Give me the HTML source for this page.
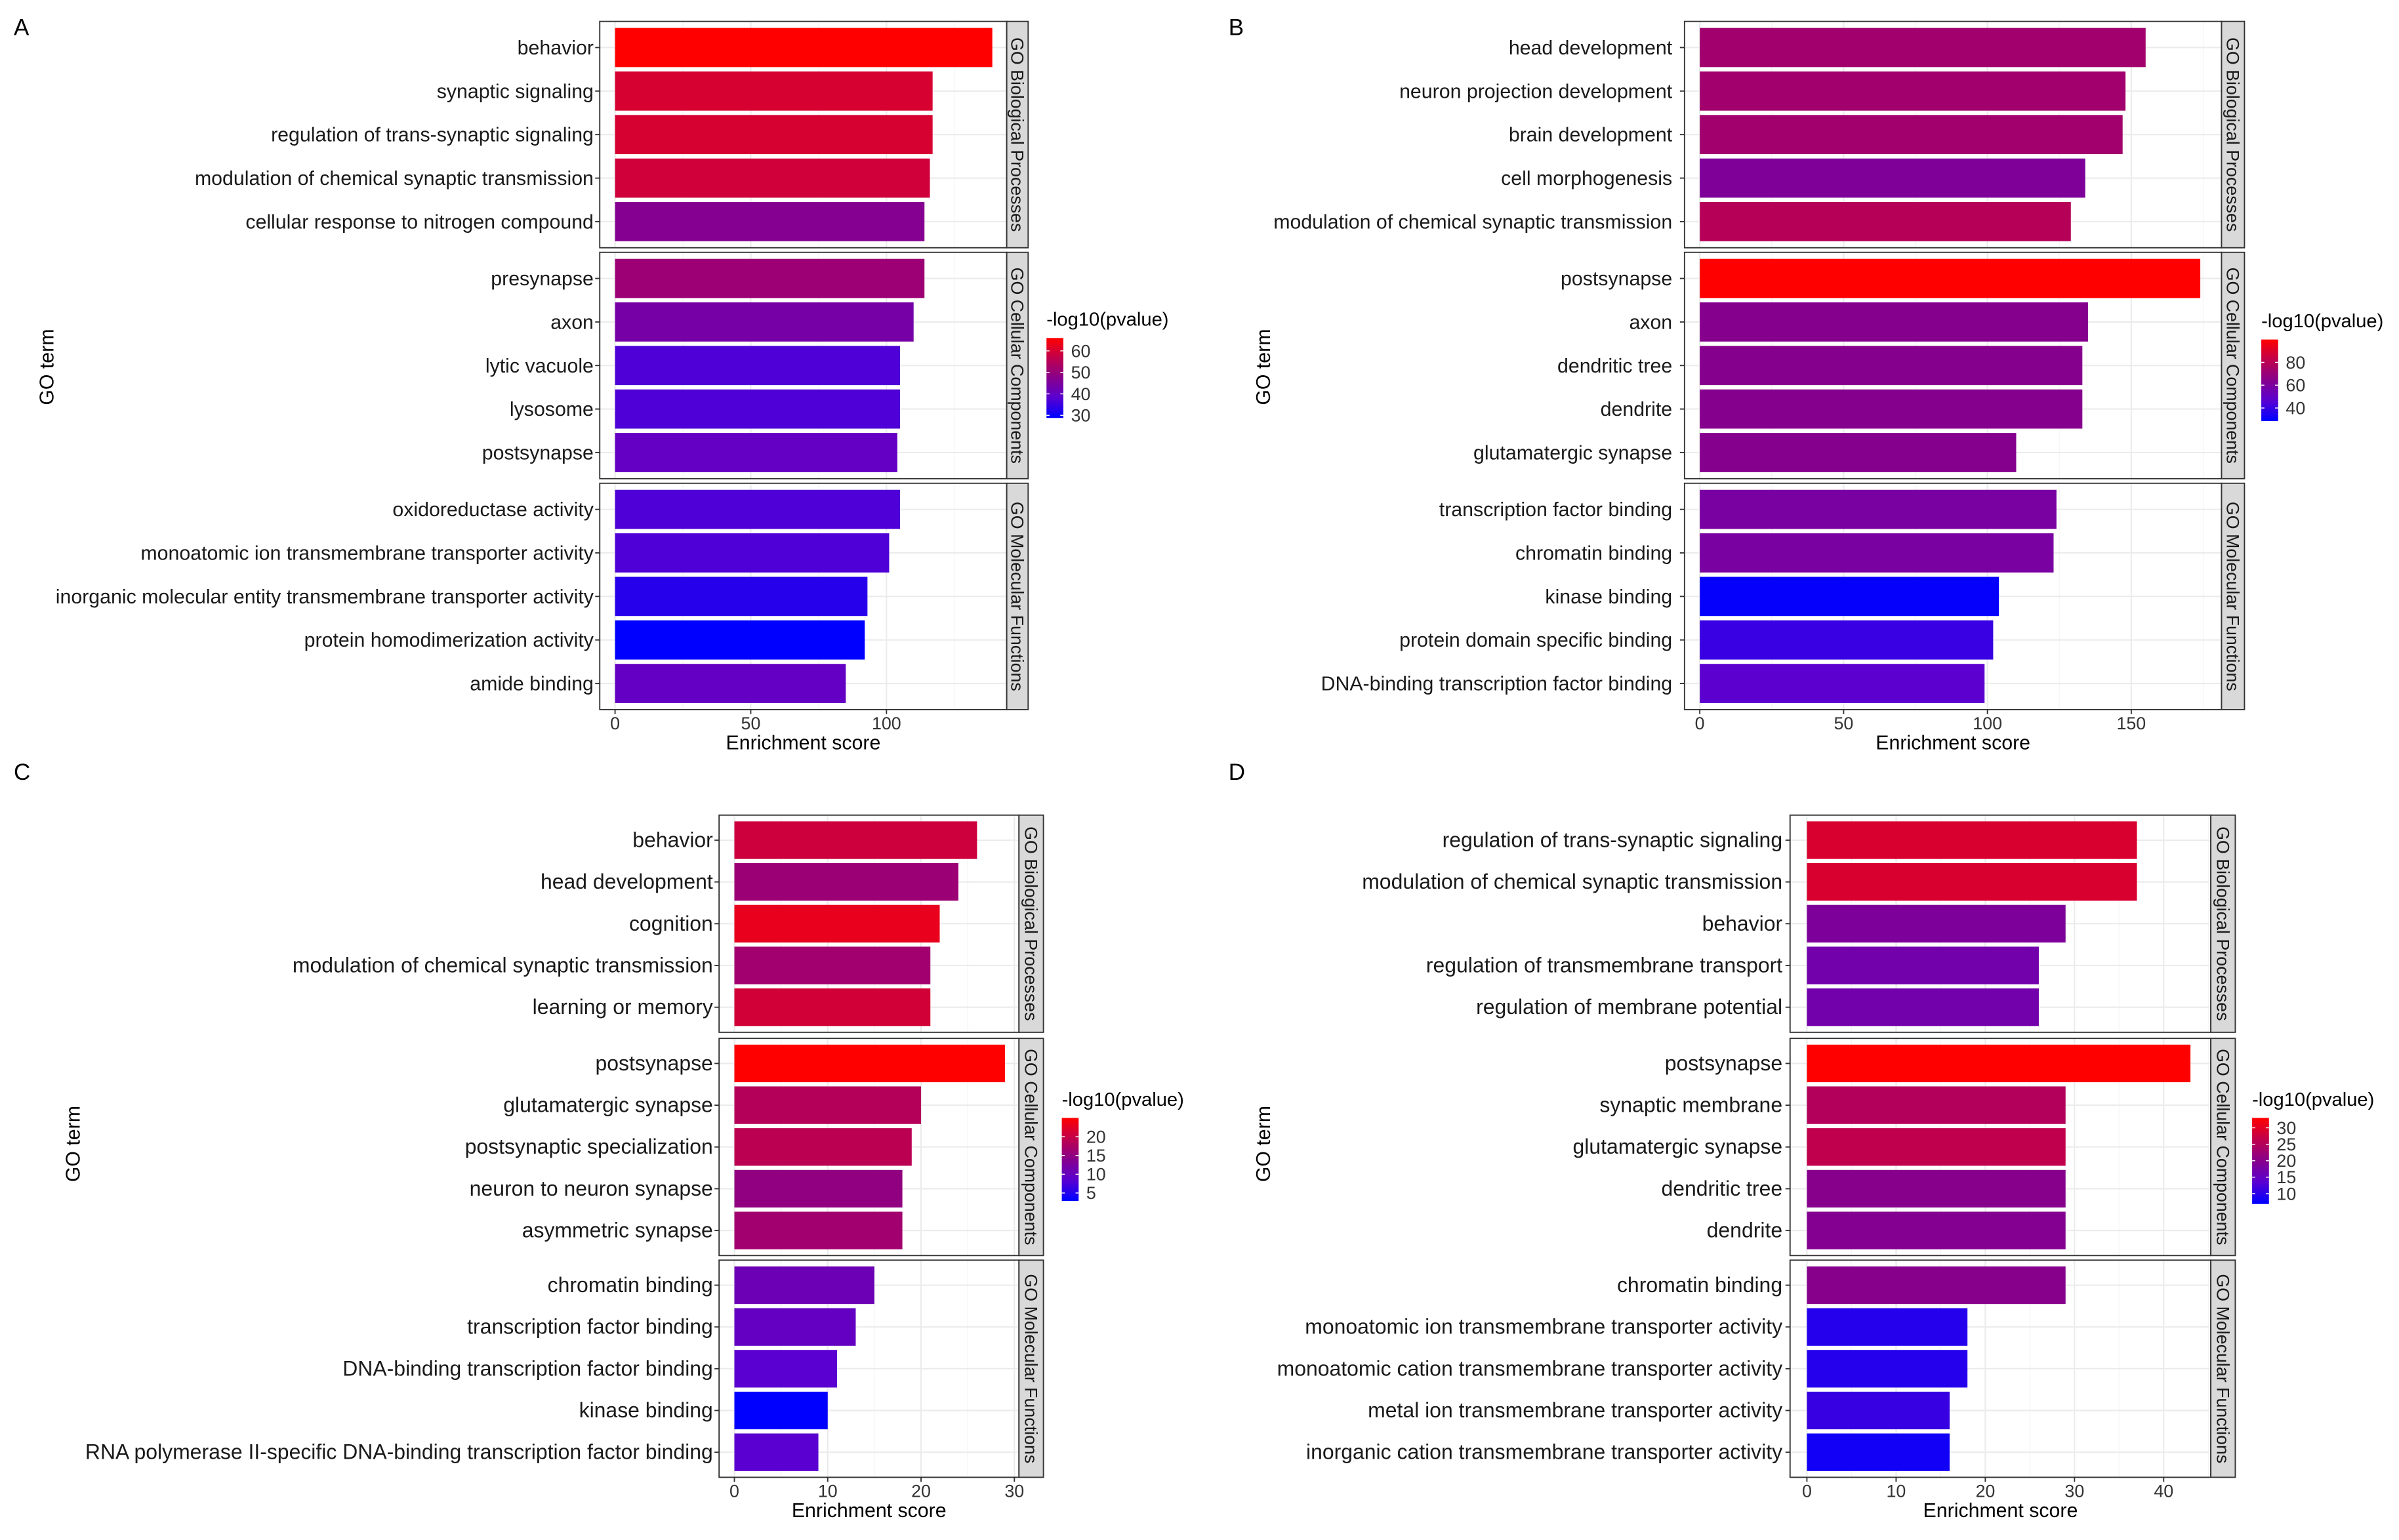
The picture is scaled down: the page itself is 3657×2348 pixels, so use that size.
<!DOCTYPE html>
<html><head><meta charset="utf-8"><style>
html,body{margin:0;padding:0;background:#fff;}
svg{display:block;font-family:"Liberation Sans",Arial,sans-serif;}
</style></head><body>
<svg id="fig" width="3657" height="2348" viewBox="0 0 1568 1007" preserveAspectRatio="none" xmlns="http://www.w3.org/2000/svg"></svg>
<script>
// ---------- DATA ----------
const A_terms = ["behavior","synaptic signaling","regulation of trans-synaptic signaling","modulation of chemical synaptic transmission","cellular response to nitrogen compound","presynapse","axon","lytic vacuole","lysosome","postsynapse","oxidoreductase activity","monoatomic ion transmembrane transporter activity","inorganic molecular entity transmembrane transporter activity","protein homodimerization activity","amide binding"];
const A_scores = [139,117,117,116,114,114,110,105,105,104,105,101,93,92,85];
const A_pvals = [66,60,60,59,47,51,44,37,37,40,37,37,33,29,40];
const A_ticks = [0,50,100];
const A_legend = [30,40,50,60];

const B_terms = ["head development","neuron projection development","brain development","cell morphogenesis","modulation of chemical synaptic transmission","postsynapse","axon","dendritic tree","dendrite","glutamatergic synapse","transcription factor binding","chromatin binding","kinase binding","protein domain specific binding","DNA-binding transcription factor binding"];
const B_scores = [155,148,147,134,129,174,135,133,133,110,124,123,104,102,99];
const B_pvals = [73,73,73,61,79,100,64,64,64,64,59,59,30,40,47];
const B_ticks = [0,50,100,150];
const B_legend = [40,60,80];

const C_terms = ["behavior","head development","cognition","modulation of chemical synaptic transmission","learning or memory","postsynapse","glutamatergic synapse","postsynaptic specialization","neuron to neuron synapse","asymmetric synapse","chromatin binding","transcription factor binding","DNA-binding transcription factor binding","kinase binding","RNA polymerase II-specific DNA-binding transcription factor binding"];
const C_scores = [26,24,22,21,21,29,20,19,18,18,15,13,11,10,9];
const C_pvals = [20.6,16,23,16.6,21,25,18.4,19,15,16.6,10.7,9.6,8.5,3,8.5];
const C_ticks = [0,10,20,30];
const C_legend = [5,10,15,20];

const D_terms = ["regulation of trans-synaptic signaling","modulation of chemical synaptic transmission","behavior","regulation of transmembrane transport","regulation of membrane potential","postsynapse","synaptic membrane","glutamatergic synapse","dendritic tree","dendrite","chromatin binding","monoatomic ion transmembrane transporter activity","monoatomic cation transmembrane transporter activity","metal ion transmembrane transporter activity","inorganic cation transmembrane transporter activity"];
const D_scores = [37,37,29,26,26,43,29,29,29,29,29,18,18,16,16];
const D_pvals = [29,29,18.7,17,17,33,25,26.5,20,19.5,20,9.6,9.6,11,8.3];
const D_ticks = [0,10,20,30,40];
const D_legend = [10,15,20,25,30];

const facetNames = ["GO Biological Processes","GO Cellular Components","GO Molecular Functions"];

// ---------- LAYOUT ----------
const svg = document.getElementById('fig');
const NS = "http://www.w3.org/2000/svg";
function mk(tag, attrs, parent){const e=document.createElementNS(NS,tag);for(const k in attrs)e.setAttribute(k,attrs[k]);(parent||svg).appendChild(e);return e;}

const stops=[[0,[0,0,255]],[0.25,[90,0,208]],[0.5,[135,0,140]],[0.75,[192,0,76]],[1,[255,0,0]]];
function colorFor(t){t=Math.max(0,Math.min(1,t));for(let i=1;i<stops.length;i++){if(t<=stops[i][0]){const a=stops[i-1],b=stops[i];const u=(t-a[0])/(b[0]-a[0]);const c=a[1].map((v,j)=>Math.round(v+(b[1][j]-v)*u));return `rgb(${c[0]},${c[1]},${c[2]})`;}}return 'rgb(255,0,0)';}

function panel(L, terms, scores, pvals, ticks, legendTicks){
  const g=mk('g',{});
  
  
  const xs=v=>L.x0+v*L.ppu;
  const lt=mk('text',{x:L.lx,y:L.ly,'font-size':15,fill:'#000'},g);lt.textContent=L.id;
  
  const yt=mk('text',{x:L.ytx,y:L.yty,'font-size':13,'text-anchor':'middle',transform:`rotate(-90 ${L.ytx} ${L.yty})`},g);yt.textContent="GO term";
  
  for(let f=0;f<3;f++){
    const top=L.tops[f],h=L.fh;
    const unit=h/5.2;
    mk('rect',{x:L.px1,y:top,width:L.px2-L.px1,height:h,fill:'#fff'},g);
    for(let k=0;k<ticks.length;k++){
      mk('line',{x1:xs(ticks[k]),x2:xs(ticks[k]),y1:top,y2:top+h,stroke:'#EBEBEB','stroke-width':0.9},g);
      const m=ticks[k]+(ticks[1]-ticks[0])/2;if(xs(m)<L.px2)mk('line',{x1:xs(m),x2:xs(m),y1:top,y2:top+h,stroke:'#F4F4F4','stroke-width':0.5},g);
    }
    for(let i=0;i<5;i++){
      const idx=f*5+i;const cy=top+(0.6+i)*unit;
      mk('line',{x1:L.px1,x2:L.px2,y1:cy,y2:cy,stroke:'#EBEBEB','stroke-width':0.9},g);
      const bh=unit*0.9;
      const r=mk('rect',{x:xs(0),y:cy-bh/2,width:xs(scores[idx])-xs(0),height:bh,fill:colorFor((pvals[idx]-L.cmin)/(L.cmax-L.cmin))},g);
      
      
      const t=mk('text',{x:L.px1-L.loff,y:cy+4.5,'font-size':L.fs,'text-anchor':'end',fill:'#1a1a1a'},g);t.textContent=terms[idx];
      
      mk('line',{x1:L.px1-3,x2:L.px1,y1:cy,y2:cy,stroke:'#333','stroke-width':0.8},g);
    }
    mk('rect',{x:L.px1,y:top,width:L.px2-L.px1,height:h,fill:'none',stroke:'#333','stroke-width':0.8},g);
    const s=mk('rect',{x:L.px2,y:top,width:L.sw,height:h,fill:'#D9D9D9',stroke:'#333','stroke-width':0.8},g);
    
    const sx=L.px2+L.sw/2-4,sy=top+h/2;
    const st=mk('text',{x:sx,y:sy,'font-size':11.5,'text-anchor':'middle',fill:'#1a1a1a',transform:`rotate(90 ${sx} ${sy})`},g);st.textContent=facetNames[f];
    
  }
  const bottom=L.tops[2]+L.fh;
  ticks.forEach(v=>{mk('line',{x1:xs(v),x2:xs(v),y1:bottom,y2:bottom+3,stroke:'#333','stroke-width':0.8},g);
    const t=mk('text',{x:xs(v),y:bottom+13,'font-size':11.5,'text-anchor':'middle',fill:'#333'},g);t.textContent=v;
    });
  const xt=mk('text',{x:(L.px1+L.px2)/2,y:bottom+26,'font-size':13,'text-anchor':'middle'},g);xt.textContent="Enrichment score";
  
  const lg=mk('g',{},g);
  const tt=mk('text',{x:L.legx,y:L.legy-8,'font-size':12.5},lg);tt.textContent="-log10(pvalue)";
  const N=40,bh=L.legh/N;
  for(let i=0;i<N;i++){mk('rect',{x:L.legx,y:L.legy+i*bh,width:11,height:bh+0.3,fill:colorFor(1-(i+0.5)/N)},lg);}
  legendTicks.forEach(v=>{const y=L.legy+L.legh*(1-(v-L.cmin)/(L.cmax-L.cmin));
    mk('line',{x1:L.legx,x2:L.legx+2,y1:y,y2:y,stroke:'#fff','stroke-width':0.6},lg);
    mk('line',{x1:L.legx+9,x2:L.legx+11,y1:y,y2:y,stroke:'#fff','stroke-width':0.6},lg);
    const t=mk('text',{x:L.legx+16,y:y+4,'font-size':11.5,fill:'#333'},lg);t.textContent=v;});
}

panel({id:'A',lx:9,ly:23,ytx:35,yty:240,tops:[14,165,316],fh:148,px1:392,px2:658,sw:14,x0:402,ppu:1.774,cmin:29,cmax:66,legx:684,legy:221,legh:52,fs:13,loff:4},A_terms,A_scores,A_pvals,A_ticks,A_legend);
panel({id:'B',lx:803,ly:23,ytx:830,yty:240,tops:[14,165,316],fh:148,px1:1101,px2:1452,sw:15,x0:1111,ppu:1.88,cmin:29,cmax:100,legx:1478,legy:222,legh:53,fs:13,loff:8},B_terms,B_scores,B_pvals,B_ticks,B_legend);
panel({id:'C',lx:9,ly:510,ytx:52,yty:748,tops:[533,679,824],fh:142,px1:470,px2:666,sw:16,x0:480,ppu:6.1,cmin:3,cmax:25,legx:694,legy:731,legh:54,fs:13.7,loff:4},C_terms,C_scores,C_pvals,C_ticks,C_legend);
panel({id:'D',lx:803,ly:510,ytx:830,yty:748,tops:[533,679,824],fh:142,px1:1170,px2:1445,sw:16,x0:1181,ppu:5.83,cmin:7,cmax:33,legx:1472,legy:731,legh:56,fs:13.7,loff:5},D_terms,D_scores,D_pvals,D_ticks,D_legend);
</script>
</body></html>
